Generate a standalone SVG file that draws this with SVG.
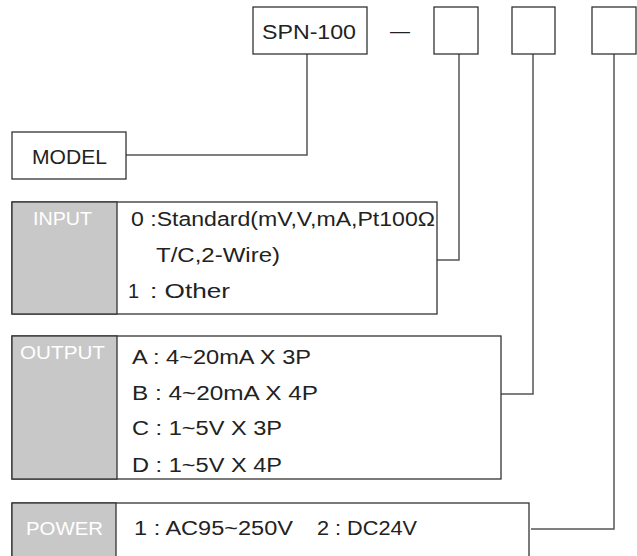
<svg xmlns="http://www.w3.org/2000/svg" width="637" height="556" viewBox="0 0 637 556">
<style>
.box{fill:#fff;stroke:#333;stroke-width:1.3}
.gray{fill:#c8c8c8;stroke:#333;stroke-width:1.3}
.conn{fill:none;stroke:#555;stroke-width:1.5}
text{font-family:"Liberation Sans",Arial,sans-serif;font-size:20px;fill:#222}
.lbl{fill:#fff;font-size:19px}
</style>
<rect width="637" height="556" fill="#fff"/>
<g id="connectors">
<path class="conn" d="M307,54 V155 H126"/>
<path class="conn" d="M459,54 V260 H437"/>
<path class="conn" d="M533,54 V394 H501"/>
<path class="conn" d="M614,54 V529 H531"/>
</g>
<g id="spn">
<rect class="box" x="253" y="7" width="114" height="47"/>
<text x="262" y="39" textLength="94" lengthAdjust="spacingAndGlyphs">SPN-100</text>
</g>
<g id="dash"><text x="400" y="38" text-anchor="middle">—</text></g>
<g id="slot1"><rect class="box" x="434" y="7" width="44" height="47"/></g>
<g id="slot2"><rect class="box" x="512" y="7" width="43" height="47"/></g>
<g id="slot3"><rect class="box" x="592" y="7" width="44" height="47"/></g>
<g id="model">
<rect class="box" x="12" y="132" width="114" height="47"/>
<text x="32" y="164" textLength="75" lengthAdjust="spacingAndGlyphs">MODEL</text>
</g>
<g id="input">
<rect class="box" x="12" y="202" width="425" height="112"/>
<rect class="gray" x="12" y="202" width="105" height="112"/>
<text class="lbl" x="33" y="225" textLength="59" lengthAdjust="spacingAndGlyphs">INPUT</text>
<text x="131" y="226" textLength="304" lengthAdjust="spacingAndGlyphs">0 :Standard(mV,V,mA,Pt100Ω</text>
<text x="156" y="262" textLength="124" lengthAdjust="spacingAndGlyphs">T/C,2-Wire)</text>
<text x="128" y="298">1</text>
<text x="150" y="298" textLength="80" lengthAdjust="spacingAndGlyphs">: Other</text>
</g>
<g id="output">
<rect class="box" x="12" y="336" width="489" height="143"/>
<rect class="gray" x="12" y="336" width="105" height="143"/>
<text class="lbl" x="20" y="359" textLength="85" lengthAdjust="spacingAndGlyphs">OUTPUT</text>
<text x="132" y="364" textLength="179" lengthAdjust="spacingAndGlyphs">A : 4~20mA X 3P</text>
<text x="132" y="400" textLength="186" lengthAdjust="spacingAndGlyphs">B : 4~20mA  X 4P</text>
<text x="132" y="435" textLength="150" lengthAdjust="spacingAndGlyphs">C : 1~5V X 3P</text>
<text x="132" y="472" textLength="150" lengthAdjust="spacingAndGlyphs">D : 1~5V X 4P</text>
</g>
<g id="power">
<rect class="box" x="12" y="503" width="517" height="70"/>
<rect class="gray" x="12" y="503" width="104" height="70"/>
<text class="lbl" x="26" y="535" textLength="77" lengthAdjust="spacingAndGlyphs">POWER</text>
<text x="134" y="535" textLength="159" lengthAdjust="spacingAndGlyphs">1 : AC95~250V</text>
<text x="317" y="535" textLength="100" lengthAdjust="spacingAndGlyphs">2 : DC24V</text>
</g>
</svg>
